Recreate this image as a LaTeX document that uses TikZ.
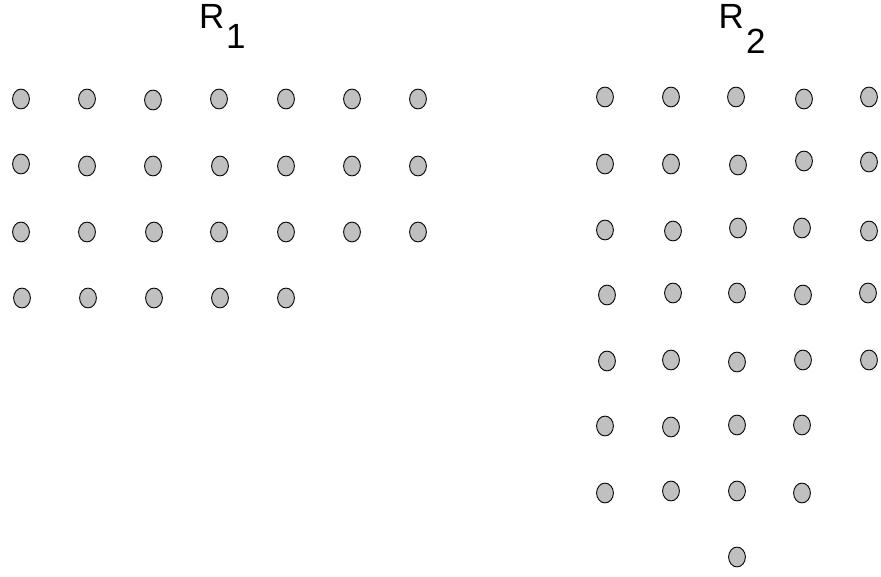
\documentclass[tikz,border=0pt]{standalone}
\usepackage{fontspec}
\setmainfont{Liberation Sans}
\usetikzlibrary{shapes.geometric}
\definecolor{dotgray}{HTML}{C0C0C0}
\begin{document}
\begin{tikzpicture}[x=1pt,y=-1pt,
  dot/.style={ellipse,draw=black,fill=dotgray,line width=0.9pt,minimum width=16.8pt,minimum height=19.8pt,inner sep=0pt},
  lbl/.style={inner sep=0pt,anchor=base west,font=\fontsize{35pt}{38pt}\selectfont}]
\useasboundingbox (0,0) rectangle (881,577);
% labels
\node[lbl] (r1) at (199,28.5) {R};
\node[lbl] (r1s) at (226,49) {1};
\node[lbl] (r2) at (718.5,28.5) {R};
\node[lbl] (r2s) at (746,53.3) {2};
% left grid
\foreach \x/\y [count=\i] in {21/99,87/99,153/100,219/99,286/99,352/99,418/99,
  21/164,87/166,153/166,220/166,286/166,352/166,418/166,
  21/232,87/232,154/232,219/232,286/232,352/232,418/232,
  22/298,88/298,154/298,220/298,286/298}
  \node[dot] (L\i) at (\x,\y) {};
% right grid
\foreach \x/\y [count=\i] in {605/97,671/97,736/97,804/99,869/97,
  605/164,671/164,738/165,804/161,869/162,
  605/230,673/231,738/228,802/228,869/231,
  607/295,673/293,737/293,803/295,868/293,
  607/361,671/360,737/362,803/360,869/360,
  605/426,671/427,737/425,802/425,
  605/493,671/491,737/491,802/493,
  737/557}
  \node[dot] (Rt\i) at (\x,\y) {};
\end{tikzpicture}
\end{document}
